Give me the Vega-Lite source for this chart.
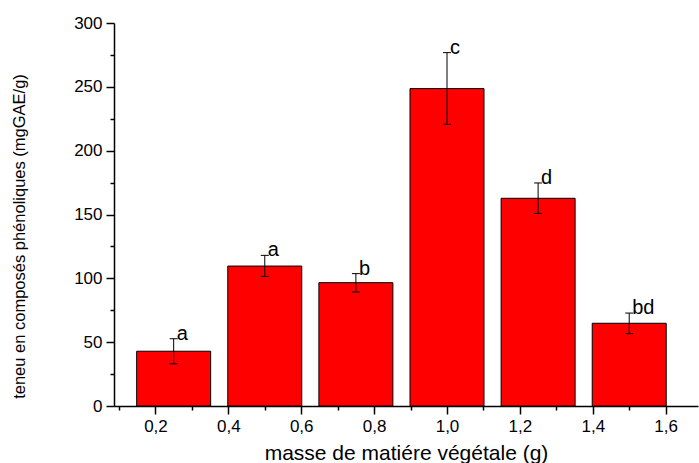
{
  "$schema": "https://vega.github.io/schema/vega-lite/v6.json",
  "width": 584,
  "height": 383,
  "autosize": {"type": "none"},
  "padding": {"left": 114, "top": 23, "right": 1, "bottom": 57},
  "background": "#ffffff",
  "config": {
    "view": {"stroke": null},
    "font": "Liberation Sans",
    "locale": {"number": {"decimal": ",", "thousands": " ", "grouping": [3], "currency": ["", " €"]}}
  },
  "data": {
    "values": [
      {"masse": 0.25, "teneur": 42.9, "bas": 33.1, "haut": 52.7, "groupe": "a"},
      {"masse": 0.5, "teneur": 109.6, "bas": 101.5, "haut": 118.0, "groupe": "a"},
      {"masse": 0.75, "teneur": 96.6, "bas": 89.3, "haut": 103.7, "groupe": "b"},
      {"masse": 1.0, "teneur": 248.6, "bas": 220.6, "haut": 276.8, "groupe": "c"},
      {"masse": 1.25, "teneur": 162.7, "bas": 150.9, "haut": 174.7, "groupe": "d"},
      {"masse": 1.5, "teneur": 64.8, "bas": 56.7, "haut": 72.8, "groupe": "bd"}
    ]
  },
  "resolve": {"axis": {"x": "independent", "y": "independent"}},
  "layer": [
    {
      "mark": {"type": "bar", "width": 74, "fill": "#ff0000", "stroke": "#000000", "strokeWidth": 1},
      "encoding": {
        "x": {
          "field": "masse", "type": "quantitative",
          "scale": {"domain": [0.1, 1.675], "nice": false, "zero": false},
          "title": "masse de matiére végétale (g)",
          "axis": {
            "orient": "bottom",
            "values": [0.2, 0.4, 0.6, 0.8, 1.0, 1.2, 1.4, 1.6],
            "format": ".1f",
            "tickSize": 8,
            "labelFontSize": 17, "labelPadding": 4, "labelColor": "#000000",
            "labelFlush": false, "labelOverlap": false,
            "titleFontSize": 21, "titleFontWeight": "normal", "titleColor": "#000000",
            "titleBaseline": "alphabetic", "titleY": 53,
            "domainColor": "#000000", "domainWidth": 1.5,
            "tickColor": "#000000", "tickWidth": 1.5,
            "grid": false
          }
        },
        "y": {
          "field": "teneur", "type": "quantitative",
          "scale": {"domain": [0, 300], "nice": false},
          "title": "teneu en composés phénoliques (mgGAE/g)",
          "axis": {
            "orient": "left",
            "values": [0, 50, 100, 150, 200, 250, 300],
            "tickSize": 8,
            "labelFontSize": 17, "labelPadding": 4, "labelColor": "#000000",
            "labelFlush": false, "labelOverlap": false,
            "titleFontSize": 16.5, "titleFontWeight": "normal", "titleColor": "#000000",
            "titleBaseline": "middle", "titleAlign": "center", "titleX": -95, "titleY": 213,
            "domainColor": "#000000", "domainWidth": 1.5,
            "tickColor": "#000000", "tickWidth": 1.5,
            "grid": false
          }
        }
      }
    },
    {
      "mark": {"type": "rule", "stroke": "#000000", "strokeWidth": 1},
      "encoding": {
        "x": {
          "field": "masse", "type": "quantitative",
          "axis": {
            "orient": "bottom", "values": [0.1, 0.3, 0.5, 0.7, 0.9, 1.1, 1.3, 1.5],
            "labels": false, "domain": false, "title": null, "grid": false,
            "tickSize": 4, "tickColor": "#000000", "tickWidth": 1.5
          }
        },
        "y": {
          "field": "bas", "type": "quantitative",
          "axis": {
            "orient": "left", "values": [25, 75, 125, 175, 225, 275],
            "labels": false, "domain": false, "title": null, "grid": false,
            "tickSize": 4, "tickColor": "#000000", "tickWidth": 1.5
          }
        },
        "y2": {"field": "haut"}
      }
    },
    {
      "mark": {"type": "tick", "orient": "horizontal", "size": 8, "thickness": 1, "color": "#000000", "opacity": 1},
      "encoding": {
        "x": {"field": "masse", "type": "quantitative", "axis": null},
        "y": {"field": "haut", "type": "quantitative", "axis": null}
      }
    },
    {
      "mark": {"type": "tick", "orient": "horizontal", "size": 8, "thickness": 1, "color": "#000000", "opacity": 1},
      "encoding": {
        "x": {"field": "masse", "type": "quantitative", "axis": null},
        "y": {"field": "bas", "type": "quantitative", "axis": null}
      }
    },
    {
      "mark": {"type": "text", "align": "left", "baseline": "alphabetic", "dx": 3, "dy": 1, "fontSize": 20, "font": "Liberation Sans", "color": "#000000"},
      "encoding": {
        "x": {"field": "masse", "type": "quantitative", "axis": null},
        "y": {"field": "haut", "type": "quantitative", "axis": null},
        "text": {"field": "groupe"}
      }
    }
  ]
}
